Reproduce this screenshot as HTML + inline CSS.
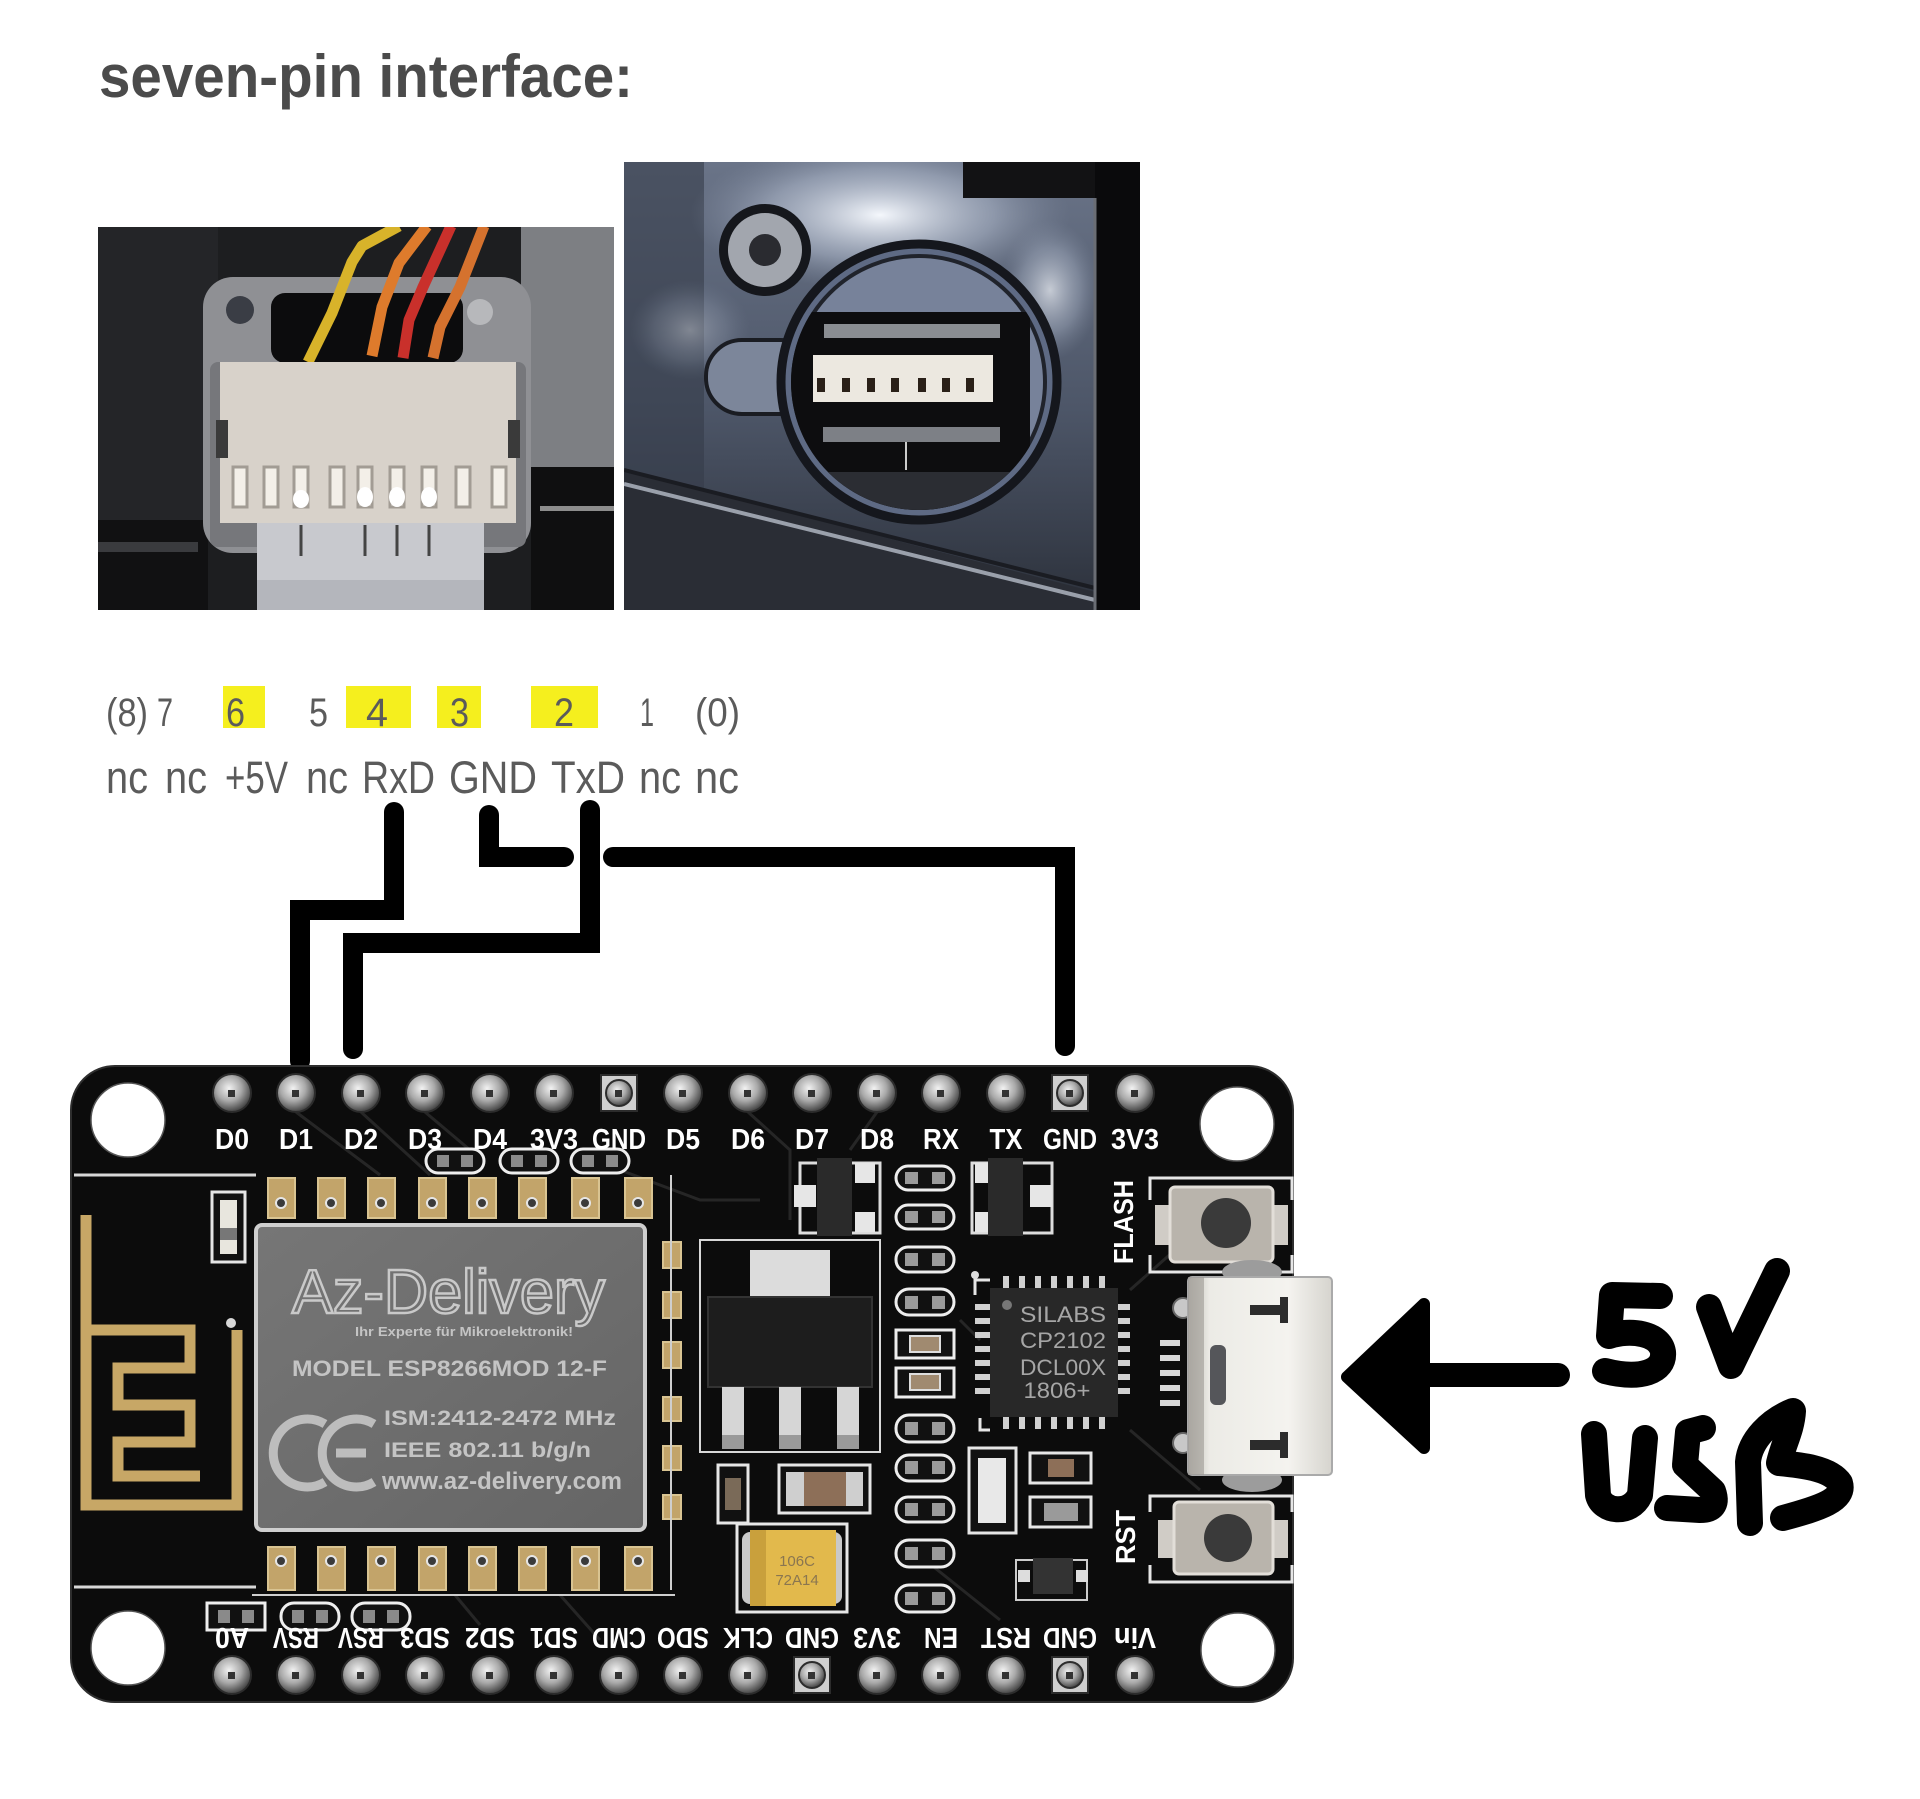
<!DOCTYPE html>
<html>
<head>
<meta charset="utf-8">
<style>
  html,body{margin:0;padding:0;background:#fff;}
  svg{display:block;}
  text{font-family:"Liberation Sans",sans-serif;}
</style>
</head>
<body>
<svg width="1920" height="1799" viewBox="0 0 1920 1799" xmlns="http://www.w3.org/2000/svg">
<defs>
  <radialGradient id="pin" cx="42%" cy="38%" r="60%">
    <stop offset="0%" stop-color="#f2f2f2"/>
    <stop offset="55%" stop-color="#a9a9a9"/>
    <stop offset="100%" stop-color="#4a4a4a"/>
  </radialGradient>
  <linearGradient id="usb" x1="0" y1="0" x2="1" y2="0">
    <stop offset="0%" stop-color="#bdbab2"/>
    <stop offset="15%" stop-color="#ecebe6"/>
    <stop offset="70%" stop-color="#f4f3ef"/>
    <stop offset="100%" stop-color="#d6d4ce"/>
  </linearGradient>
  <linearGradient id="rph" x1="0" y1="0" x2="0" y2="1">
    <stop offset="0%" stop-color="#6a7488"/>
    <stop offset="55%" stop-color="#4d5668"/>
    <stop offset="100%" stop-color="#2c313b"/>
  </linearGradient>
  <radialGradient id="hl" cx="50%" cy="50%" r="50%">
    <stop offset="0%" stop-color="#f4f7fc" stop-opacity="1"/>
    <stop offset="60%" stop-color="#b8c2d4" stop-opacity="0.5"/>
    <stop offset="100%" stop-color="#8a94a8" stop-opacity="0"/>
  </radialGradient>
  <linearGradient id="shield" x1="0" y1="0" x2="1" y2="1">
    <stop offset="0%" stop-color="#767676"/>
    <stop offset="100%" stop-color="#656565"/>
  </linearGradient>
  <clipPath id="clipL"><rect x="98" y="227" width="516" height="383"/></clipPath>
  <clipPath id="clipR"><rect x="624" y="162" width="516" height="448"/></clipPath>
  <clipPath id="clipC"><circle cx="919" cy="382" r="128"/></clipPath>
</defs>

<!-- Title -->
<text x="99" y="97" font-size="60" font-weight="bold" fill="#4b4b4b" textLength="534" lengthAdjust="spacingAndGlyphs">seven-pin interface:</text>

<!-- LEFT PHOTO -->
<g clip-path="url(#clipL)">
  <rect x="98" y="227" width="516" height="383" fill="#1d1e20"/>
  <rect x="98" y="227" width="120" height="300" fill="#242528"/>
  <rect x="521" y="227" width="93" height="240" fill="#7d7f83"/>
  <rect x="531" y="467" width="83" height="143" fill="#0f0f10"/>
  <rect x="540" y="506" width="74" height="5" fill="#8c8c8c"/>
  <rect x="98" y="520" width="110" height="90" fill="#111112"/>
  <rect x="98" y="542" width="100" height="10" fill="#3a3b3e"/>
  <rect x="203" y="277" width="328" height="276" rx="30" fill="#8f9094"/>
  <rect x="210" y="362" width="316" height="185" rx="8" fill="#76777b"/>
  <rect x="271" y="293" width="192" height="70" rx="14" fill="#0c0c0d"/>
  <circle cx="240" cy="310" r="14" fill="#3a3d45"/>
  <circle cx="480" cy="312" r="13" fill="#b7b8bb"/>
  <polyline points="399,226 362,246 352,262 332,313 308,362" fill="none" stroke="#d8b32a" stroke-width="11" stroke-linejoin="round"/>
  <polyline points="427,226 399,263 382,307 372,356" fill="none" stroke="#de7b2c" stroke-width="11" stroke-linejoin="round"/>
  <polyline points="451,226 423,287 409,320 403,358" fill="none" stroke="#c9302b" stroke-width="11" stroke-linejoin="round"/>
  <polyline points="484,226 460,287 440,327 433,358" fill="none" stroke="#d5722e" stroke-width="11" stroke-linejoin="round"/>
  <rect x="220" y="362" width="296" height="161" fill="#d8d2ca"/>
  <rect x="216" y="420" width="12" height="38" fill="#3a3a3a"/>
  <rect x="508" y="420" width="12" height="38" fill="#3a3a3a"/>
  <g fill="#f3efe8" stroke="#a29c94" stroke-width="3">
    <rect x="233" y="467" width="14" height="40"/>
    <rect x="264" y="467" width="14" height="40"/>
    <rect x="294" y="467" width="14" height="40"/>
    <rect x="330" y="467" width="14" height="40"/>
    <rect x="358" y="467" width="14" height="40"/>
    <rect x="390" y="467" width="14" height="40"/>
    <rect x="422" y="467" width="14" height="40"/>
    <rect x="456" y="467" width="14" height="40"/>
    <rect x="492" y="467" width="14" height="40"/>
  </g>
  <g fill="#ffffff">
    <ellipse cx="301" cy="499" rx="8" ry="9"/>
    <ellipse cx="365" cy="497" rx="8" ry="10"/>
    <ellipse cx="397" cy="497" rx="8" ry="10"/>
    <ellipse cx="429" cy="497" rx="8" ry="10"/>
  </g>
  <rect x="257" y="523" width="227" height="87" fill="#c8c9ce"/>
  <rect x="257" y="580" width="227" height="30" fill="#b4b6bc"/>
  <g stroke="#444" stroke-width="3">
    <line x1="301" y1="525" x2="301" y2="556"/>
    <line x1="365" y1="525" x2="365" y2="556"/>
    <line x1="397" y1="525" x2="397" y2="556"/>
    <line x1="429" y1="525" x2="429" y2="556"/>
  </g>
</g>

<!-- RIGHT PHOTO -->
<g clip-path="url(#clipR)">
  <rect x="624" y="162" width="516" height="448" fill="url(#rph)"/>
  <rect x="624" y="162" width="80" height="448" fill="#353c4a" opacity="0.6"/>
  <ellipse cx="880" cy="215" rx="190" ry="75" fill="url(#hl)"/>
  <ellipse cx="1050" cy="290" rx="50" ry="70" fill="url(#hl)" opacity="0.7"/>
  <ellipse cx="690" cy="330" rx="60" ry="50" fill="url(#hl)" opacity="0.35"/>
  <polygon points="624,470 1095,592 1095,610 624,610" fill="#2a2d35"/>
  <line x1="624" y1="484" x2="1095" y2="600" stroke="#9aa0ab" stroke-width="4"/>
  <line x1="624" y1="470" x2="1095" y2="588" stroke="#1a1c22" stroke-width="4"/>
  <rect x="963" y="162" width="132" height="36" fill="#121214"/>
  <rect x="1095" y="162" width="45" height="448" fill="#0a0a0c"/>
  <line x1="1095" y1="198" x2="1095" y2="610" stroke="#6a6d74" stroke-width="3"/>
  <circle cx="765" cy="250" r="46" fill="#15171c"/>
  <circle cx="765" cy="250" r="37" fill="#a2a6ae"/>
  <circle cx="765" cy="250" r="16" fill="#2a2b30"/>
  <rect x="706" y="340" width="110" height="74" rx="36" fill="#7c869a" stroke="#1a1c22" stroke-width="4"/>
  <circle cx="919" cy="382" r="138" fill="#5e6a84" stroke="#15171d" stroke-width="9"/>
  <circle cx="919" cy="382" r="126" fill="#77829a" stroke="#20232b" stroke-width="4"/>
  <g clip-path="url(#clipC)">
    <rect x="790" y="312" width="240" height="200" fill="#0d0d0f"/>
    <rect x="790" y="472" width="240" height="40" fill="#2b2d33"/>
  </g>
  <rect x="824" y="324" width="176" height="14" fill="#8a8d92"/>
  <rect x="813" y="355" width="180" height="47" fill="#ece8e0"/>
  <g fill="#2a2018">
    <rect x="817" y="378" width="8" height="14"/>
    <rect x="842" y="378" width="8" height="14"/>
    <rect x="867" y="378" width="8" height="14"/>
    <rect x="891" y="378" width="8" height="14"/>
    <rect x="918" y="378" width="8" height="14"/>
    <rect x="942" y="378" width="8" height="14"/>
    <rect x="966" y="378" width="8" height="14"/>
  </g>
  <rect x="823" y="427" width="177" height="15" fill="#7d8086"/>
  <line x1="906" y1="442" x2="906" y2="470" stroke="#ccc" stroke-width="2"/>
</g>

<!-- Pin numbers -->
<g fill="#f5ef1e">
  <rect x="223" y="686" width="42" height="42"/>
  <rect x="346" y="686" width="65" height="42"/>
  <rect x="437" y="686" width="44" height="42"/>
  <rect x="531" y="686" width="67" height="42"/>
</g>
<g fill="#5b5b5b" font-size="40">
  <text x="106" y="726" textLength="42" lengthAdjust="spacingAndGlyphs">(8)</text>
  <text x="157" y="726" textLength="16" lengthAdjust="spacingAndGlyphs">7</text>
  <text x="226" y="726" textLength="19" lengthAdjust="spacingAndGlyphs">6</text>
  <text x="309" y="726" textLength="19" lengthAdjust="spacingAndGlyphs">5</text>
  <text x="366" y="726" textLength="22" lengthAdjust="spacingAndGlyphs">4</text>
  <text x="450" y="726" textLength="19" lengthAdjust="spacingAndGlyphs">3</text>
  <text x="554" y="726" textLength="20" lengthAdjust="spacingAndGlyphs">2</text>
  <text x="640" y="726" textLength="14" lengthAdjust="spacingAndGlyphs">1</text>
  <text x="695" y="726" textLength="45" lengthAdjust="spacingAndGlyphs">(0)</text>
</g>
<g fill="#5b5b5b" font-size="45">
  <text x="106" y="793" textLength="42" lengthAdjust="spacingAndGlyphs">nc</text>
  <text x="165" y="793" textLength="42" lengthAdjust="spacingAndGlyphs">nc</text>
  <text x="225" y="793" textLength="63" lengthAdjust="spacingAndGlyphs">+5V</text>
  <text x="306" y="793" textLength="42" lengthAdjust="spacingAndGlyphs">nc</text>
  <text x="362" y="793" textLength="73" lengthAdjust="spacingAndGlyphs">RxD</text>
  <text x="449" y="793" textLength="88" lengthAdjust="spacingAndGlyphs">GND</text>
  <text x="551" y="793" textLength="74" lengthAdjust="spacingAndGlyphs">TxD</text>
  <text x="639" y="793" textLength="42" lengthAdjust="spacingAndGlyphs">nc</text>
  <text x="695" y="793" textLength="44" lengthAdjust="spacingAndGlyphs">nc</text>
</g>

<!-- Wires -->
<g fill="none" stroke="#000" stroke-width="20" stroke-linecap="round" stroke-linejoin="miter">
  <polyline points="394,812 394,910 300,910 300,1061"/>
  <polyline points="590,810 590,943 353,943 353,1049"/>
  <polyline points="489,815 489,857 564,857"/>
  <polyline points="613,857 1065,857 1065,1046"/>
</g>

<!-- BOARD -->
<rect x="71" y="1066" width="1222" height="636" rx="44" fill="#0c0c0c" stroke="#2e2e2e" stroke-width="2"/>
<g fill="#fff" stroke="#555" stroke-width="1.5">
  <circle cx="128" cy="1120" r="37"/>
  <circle cx="1237" cy="1124" r="37"/>
  <circle cx="128" cy="1648" r="37"/>
  <circle cx="1238" cy="1650" r="37"/>
</g>
<g stroke="#262626" stroke-width="3" fill="none">
  <polyline points="296,1112 380,1175"/>
  <polyline points="361,1112 430,1175"/>
  <polyline points="425,1112 470,1150"/>
  <polyline points="620,1170 700,1200 760,1200"/>
  <polyline points="748,1112 790,1150 790,1220"/>
  <polyline points="877,1112 850,1150"/>
  <polyline points="960,1320 980,1340"/>
  <polyline points="1130,1290 1175,1250"/>
  <polyline points="1130,1430 1200,1490"/>
  <polyline points="900,1540 1000,1620"/>
  <polyline points="455,1595 480,1625"/>
  <polyline points="560,1595 600,1640"/>
</g>
<g stroke="#d8d8d8" stroke-width="3">
  <line x1="74" y1="1175" x2="256" y2="1175"/>
  <line x1="74" y1="1587" x2="256" y2="1587"/>
</g>
<g fill="none" stroke="#c7a766" stroke-width="11" stroke-linejoin="miter">
  <polyline points="86,1215 86,1505 237,1505 237,1330"/>
  <polyline points="86,1330 190,1330 190,1368 118,1368 118,1405 190,1405 190,1442 118,1442 118,1476 200,1476"/>
</g>
<circle cx="231" cy="1323" r="5" fill="#d8d8d8"/>
<rect x="212" y="1192" width="33" height="70" fill="#111" stroke="#e5e5e5" stroke-width="3"/>
<rect x="220" y="1200" width="17" height="54" fill="#e8e6de"/>
<rect x="220" y="1228" width="17" height="12" fill="#777"/>

<!-- Module pads -->
<g>
  <g fill="#c2a46a" stroke="#d9c492" stroke-width="2">
    <rect x="268" y="1178" width="27" height="40"/>
    <rect x="318" y="1178" width="27" height="40"/>
    <rect x="368" y="1178" width="27" height="40"/>
    <rect x="419" y="1178" width="27" height="40"/>
    <rect x="469" y="1178" width="27" height="40"/>
    <rect x="519" y="1178" width="27" height="40"/>
    <rect x="572" y="1178" width="27" height="40"/>
    <rect x="625" y="1178" width="27" height="40"/>
    <rect x="268" y="1547" width="27" height="43"/>
    <rect x="318" y="1547" width="27" height="43"/>
    <rect x="368" y="1547" width="27" height="43"/>
    <rect x="419" y="1547" width="27" height="43"/>
    <rect x="469" y="1547" width="27" height="43"/>
    <rect x="519" y="1547" width="27" height="43"/>
    <rect x="572" y="1547" width="27" height="43"/>
    <rect x="625" y="1547" width="27" height="43"/>
    <rect x="663" y="1242" width="18" height="26"/>
    <rect x="663" y="1292" width="18" height="26"/>
    <rect x="663" y="1342" width="18" height="26"/>
    <rect x="663" y="1397" width="18" height="24"/>
    <rect x="663" y="1446" width="18" height="24"/>
    <rect x="663" y="1495" width="18" height="24"/>
  </g>
  <g fill="#3a3a3a" stroke="#e6e6e6" stroke-width="2">
    <circle cx="281" cy="1203" r="5"/><circle cx="331" cy="1203" r="5"/><circle cx="381" cy="1203" r="5"/><circle cx="432" cy="1203" r="5"/>
    <circle cx="482" cy="1203" r="5"/><circle cx="532" cy="1203" r="5"/><circle cx="585" cy="1203" r="5"/><circle cx="638" cy="1203" r="5"/>
    <circle cx="281" cy="1561" r="5"/><circle cx="331" cy="1561" r="5"/><circle cx="381" cy="1561" r="5"/><circle cx="432" cy="1561" r="5"/>
    <circle cx="482" cy="1561" r="5"/><circle cx="532" cy="1561" r="5"/><circle cx="585" cy="1561" r="5"/><circle cx="638" cy="1561" r="5"/>
  </g>
  <line x1="252" y1="1595" x2="675" y2="1595" stroke="#cfcfcf" stroke-width="2"/>
  <line x1="671" y1="1175" x2="671" y2="1590" stroke="#cfcfcf" stroke-width="2"/>
</g>
<!-- Shield -->
<rect x="256" y="1225" width="389" height="305" rx="6" fill="url(#shield)" stroke="#cfcfcf" stroke-width="4"/>
<text x="292" y="1313" font-size="62" fill="none" stroke="#c9c9c9" stroke-width="2.5" textLength="313" lengthAdjust="spacingAndGlyphs">Az-Delivery</text>
<text x="355" y="1336" font-size="13" font-weight="bold" fill="#c4c4c4" textLength="218" lengthAdjust="spacingAndGlyphs">Ihr Experte für Mikroelektronik!</text>
<text x="292" y="1376" font-size="22" font-weight="bold" fill="#c4c4c4" textLength="315" lengthAdjust="spacingAndGlyphs">MODEL ESP8266MOD 12-F</text>
<text x="384" y="1425" font-size="21" font-weight="bold" fill="#c4c4c4" textLength="232" lengthAdjust="spacingAndGlyphs">ISM:2412-2472 MHz</text>
<text x="384" y="1457" font-size="21" font-weight="bold" fill="#c4c4c4" textLength="207" lengthAdjust="spacingAndGlyphs">IEEE 802.11 b/g/n</text>
<text x="382" y="1489" font-size="24" font-weight="bold" fill="#c4c4c4" textLength="240" lengthAdjust="spacingAndGlyphs">www.az-delivery.com</text>
<g fill="none" stroke="#bdbdbd" stroke-width="9">
  <path d="M 325 1424 A 34 34 0 1 0 325 1482"/>
  <path d="M 374 1424 A 34 34 0 1 0 374 1482"/>
  <line x1="336" y1="1453" x2="366" y2="1453"/>
</g>

<!-- jumper ovals -->
<g fill="#111" stroke="#eee" stroke-width="3">
  <rect x="426" y="1149" width="58" height="24" rx="12"/>
  <rect x="500" y="1149" width="58" height="24" rx="12"/>
  <rect x="571" y="1149" width="58" height="24" rx="12"/>
  <rect x="207" y="1603" width="58" height="27"/>
  <rect x="281" y="1603" width="58" height="27" rx="13"/>
  <rect x="352" y="1603" width="58" height="27" rx="13"/>
</g>
<g fill="#8a8a8a">
  <rect x="437" y="1155" width="12" height="12"/><rect x="461" y="1155" width="12" height="12"/>
  <rect x="511" y="1155" width="12" height="12"/><rect x="535" y="1155" width="12" height="12"/>
  <rect x="582" y="1155" width="12" height="12"/><rect x="606" y="1155" width="12" height="12"/>
  <rect x="218" y="1610" width="12" height="13"/><rect x="242" y="1610" width="12" height="13"/>
  <rect x="292" y="1610" width="12" height="13"/><rect x="316" y="1610" width="12" height="13"/>
  <rect x="363" y="1610" width="12" height="13"/><rect x="387" y="1610" width="12" height="13"/>
</g>

<!-- Pins top -->
<g stroke="#2c2c2c" stroke-width="2" fill="url(#pin)">
  <circle cx="232" cy="1093" r="19"/><circle cx="296" cy="1093" r="19"/><circle cx="361" cy="1093" r="19"/>
  <circle cx="425" cy="1093" r="19"/><circle cx="490" cy="1093" r="19"/><circle cx="554" cy="1093" r="19"/>
  <rect x="601" y="1075" width="36" height="36" fill="#cfcfcf"/>
  <circle cx="619" cy="1093" r="13"/>
  <circle cx="683" cy="1093" r="19"/><circle cx="748" cy="1093" r="19"/><circle cx="812" cy="1093" r="19"/>
  <circle cx="877" cy="1093" r="19"/><circle cx="941" cy="1093" r="19"/><circle cx="1006" cy="1093" r="19"/>
  <rect x="1052" y="1075" width="36" height="36" fill="#cfcfcf"/>
  <circle cx="1070" cy="1093" r="13"/>
  <circle cx="1135" cy="1093" r="19"/>
</g>
<!-- Pins bottom -->
<g stroke="#2c2c2c" stroke-width="2" fill="url(#pin)">
  <circle cx="232" cy="1675" r="19"/><circle cx="296" cy="1675" r="19"/><circle cx="361" cy="1675" r="19"/>
  <circle cx="425" cy="1675" r="19"/><circle cx="490" cy="1675" r="19"/><circle cx="554" cy="1675" r="19"/>
  <circle cx="619" cy="1675" r="19"/><circle cx="683" cy="1675" r="19"/><circle cx="748" cy="1675" r="19"/>
  <rect x="794" y="1657" width="36" height="36" fill="#cfcfcf"/>
  <circle cx="812" cy="1675" r="13"/>
  <circle cx="877" cy="1675" r="19"/><circle cx="941" cy="1675" r="19"/><circle cx="1006" cy="1675" r="19"/>
  <rect x="1052" y="1657" width="36" height="36" fill="#cfcfcf"/>
  <circle cx="1070" cy="1675" r="13"/>
  <circle cx="1135" cy="1675" r="19"/>
</g>
<g fill="#333">
  <rect x="228" y="1090" width="7" height="7"/><rect x="292" y="1090" width="7" height="7"/><rect x="357" y="1090" width="7" height="7"/>
  <rect x="421" y="1090" width="7" height="7"/><rect x="486" y="1090" width="7" height="7"/><rect x="550" y="1090" width="7" height="7"/>
  <rect x="615" y="1090" width="7" height="7"/><rect x="679" y="1090" width="7" height="7"/><rect x="744" y="1090" width="7" height="7"/>
  <rect x="808" y="1090" width="7" height="7"/><rect x="873" y="1090" width="7" height="7"/><rect x="937" y="1090" width="7" height="7"/>
  <rect x="1002" y="1090" width="7" height="7"/><rect x="1066" y="1090" width="7" height="7"/><rect x="1131" y="1090" width="7" height="7"/>
  <rect x="228" y="1672" width="7" height="7"/><rect x="292" y="1672" width="7" height="7"/><rect x="357" y="1672" width="7" height="7"/>
  <rect x="421" y="1672" width="7" height="7"/><rect x="486" y="1672" width="7" height="7"/><rect x="550" y="1672" width="7" height="7"/>
  <rect x="615" y="1672" width="7" height="7"/><rect x="679" y="1672" width="7" height="7"/><rect x="744" y="1672" width="7" height="7"/>
  <rect x="808" y="1672" width="7" height="7"/><rect x="873" y="1672" width="7" height="7"/><rect x="937" y="1672" width="7" height="7"/>
  <rect x="1002" y="1672" width="7" height="7"/><rect x="1066" y="1672" width="7" height="7"/><rect x="1131" y="1672" width="7" height="7"/>
</g>

<!-- Top labels -->
<g fill="#fff" font-size="29" font-weight="bold" text-anchor="middle" lengthAdjust="spacingAndGlyphs">
  <text x="232" y="1149" textLength="34" lengthAdjust="spacingAndGlyphs">D0</text>
  <text x="296" y="1149" textLength="34" lengthAdjust="spacingAndGlyphs">D1</text>
  <text x="361" y="1149" textLength="34" lengthAdjust="spacingAndGlyphs">D2</text>
  <text x="425" y="1149" textLength="34" lengthAdjust="spacingAndGlyphs">D3</text>
  <text x="490" y="1149" textLength="34" lengthAdjust="spacingAndGlyphs">D4</text>
  <text x="554" y="1149" textLength="48" lengthAdjust="spacingAndGlyphs">3V3</text>
  <text x="619" y="1149" textLength="54" lengthAdjust="spacingAndGlyphs">GND</text>
  <text x="683" y="1149" textLength="34" lengthAdjust="spacingAndGlyphs">D5</text>
  <text x="748" y="1149" textLength="34" lengthAdjust="spacingAndGlyphs">D6</text>
  <text x="812" y="1149" textLength="34" lengthAdjust="spacingAndGlyphs">D7</text>
  <text x="877" y="1149" textLength="34" lengthAdjust="spacingAndGlyphs">D8</text>
  <text x="941" y="1149" textLength="36" lengthAdjust="spacingAndGlyphs">RX</text>
  <text x="1006" y="1149" textLength="33" lengthAdjust="spacingAndGlyphs">TX</text>
  <text x="1070" y="1149" textLength="54" lengthAdjust="spacingAndGlyphs">GND</text>
  <text x="1135" y="1149" textLength="48" lengthAdjust="spacingAndGlyphs">3V3</text>
</g>
<!-- Bottom labels (rotated) -->
<g fill="#fff" font-size="29" font-weight="bold" text-anchor="middle">
  <text x="232" y="1648" transform="rotate(180 232 1638)" textLength="34" lengthAdjust="spacingAndGlyphs">A0</text>
  <text x="296" y="1648" transform="rotate(180 296 1638)" textLength="46" lengthAdjust="spacingAndGlyphs">RSV</text>
  <text x="361" y="1648" transform="rotate(180 361 1638)" textLength="46" lengthAdjust="spacingAndGlyphs">RSV</text>
  <text x="425" y="1648" transform="rotate(180 425 1638)" textLength="50" lengthAdjust="spacingAndGlyphs">SD3</text>
  <text x="490" y="1648" transform="rotate(180 490 1638)" textLength="50" lengthAdjust="spacingAndGlyphs">SD2</text>
  <text x="554" y="1648" transform="rotate(180 554 1638)" textLength="48" lengthAdjust="spacingAndGlyphs">SD1</text>
  <text x="619" y="1648" transform="rotate(180 619 1638)" textLength="54" lengthAdjust="spacingAndGlyphs">CMD</text>
  <text x="683" y="1648" transform="rotate(180 683 1638)" textLength="52" lengthAdjust="spacingAndGlyphs">SDO</text>
  <text x="748" y="1648" transform="rotate(180 748 1638)" textLength="50" lengthAdjust="spacingAndGlyphs">CLK</text>
  <text x="812" y="1648" transform="rotate(180 812 1638)" textLength="54" lengthAdjust="spacingAndGlyphs">GND</text>
  <text x="877" y="1648" transform="rotate(180 877 1638)" textLength="48" lengthAdjust="spacingAndGlyphs">3V3</text>
  <text x="941" y="1648" transform="rotate(180 941 1638)" textLength="34" lengthAdjust="spacingAndGlyphs">EN</text>
  <text x="1006" y="1648" transform="rotate(180 1006 1638)" textLength="50" lengthAdjust="spacingAndGlyphs">RST</text>
  <text x="1070" y="1648" transform="rotate(180 1070 1638)" textLength="54" lengthAdjust="spacingAndGlyphs">GND</text>
  <text x="1135" y="1648" transform="rotate(180 1135 1638)" textLength="42" lengthAdjust="spacingAndGlyphs">Vin</text>
</g>

<!-- SOT-23 top components -->
<g>
  <rect x="800" y="1163" width="80" height="70" fill="none" stroke="#ddd" stroke-width="3"/>
  <rect x="794" y="1185" width="22" height="22" fill="#e6e6e6"/>
  <rect x="855" y="1163" width="20" height="20" fill="#e6e6e6"/>
  <rect x="855" y="1212" width="20" height="20" fill="#e6e6e6"/>
  <rect x="817" y="1158" width="35" height="78" fill="#2a2a2a"/>
  <rect x="972" y="1163" width="80" height="70" fill="none" stroke="#ddd" stroke-width="3"/>
  <rect x="1030" y="1185" width="22" height="22" fill="#e6e6e6"/>
  <rect x="975" y="1163" width="20" height="20" fill="#e6e6e6"/>
  <rect x="975" y="1212" width="20" height="20" fill="#e6e6e6"/>
  <rect x="988" y="1158" width="35" height="78" fill="#2a2a2a"/>
</g>

<!-- Jumper oval column -->
<g fill="#111" stroke="#eee" stroke-width="3">
  <rect x="896" y="1166" width="58" height="24" rx="12"/>
  <rect x="896" y="1205" width="58" height="24" rx="12"/>
  <rect x="896" y="1247" width="58" height="25" rx="12"/>
  <rect x="896" y="1289" width="58" height="26" rx="13"/>
  <rect x="896" y="1330" width="58" height="28"/>
  <rect x="896" y="1368" width="58" height="29"/>
  <rect x="896" y="1415" width="58" height="27" rx="13"/>
  <rect x="896" y="1455" width="58" height="26" rx="13"/>
  <rect x="896" y="1497" width="58" height="25" rx="12"/>
  <rect x="896" y="1540" width="58" height="27" rx="13"/>
  <rect x="896" y="1585" width="58" height="27" rx="13"/>
</g>
<g fill="#9a9a9a">
  <rect x="905" y="1172" width="13" height="12"/><rect x="932" y="1172" width="13" height="12"/>
  <rect x="905" y="1211" width="13" height="12"/><rect x="932" y="1211" width="13" height="12"/>
  <rect x="905" y="1253" width="13" height="13"/><rect x="932" y="1253" width="13" height="13"/>
  <rect x="905" y="1296" width="13" height="13"/><rect x="932" y="1296" width="13" height="13"/>
  <rect x="905" y="1422" width="13" height="13"/><rect x="932" y="1422" width="13" height="13"/>
  <rect x="905" y="1461" width="13" height="13"/><rect x="932" y="1461" width="13" height="13"/>
  <rect x="905" y="1503" width="13" height="13"/><rect x="932" y="1503" width="13" height="13"/>
  <rect x="905" y="1547" width="13" height="13"/><rect x="932" y="1547" width="13" height="13"/>
  <rect x="905" y="1592" width="13" height="13"/><rect x="932" y="1592" width="13" height="13"/>
</g>
<g>
  <rect x="910" y="1336" width="30" height="16" fill="#a08a70" stroke="#ddd" stroke-width="2"/>
  <rect x="910" y="1374" width="30" height="16" fill="#a08a70" stroke="#ddd" stroke-width="2"/>
</g>

<!-- Regulator -->
<rect x="700" y="1240" width="180" height="212" fill="none" stroke="#d8d8d8" stroke-width="2"/>
<rect x="750" y="1250" width="80" height="48" fill="#dcdcdc"/>
<rect x="708" y="1297" width="164" height="90" fill="#1d1d1d" stroke="#333" stroke-width="2"/>
<g fill="#d6d6d6">
  <rect x="722" y="1387" width="22" height="48"/>
  <rect x="779" y="1387" width="22" height="48"/>
  <rect x="837" y="1387" width="22" height="48"/>
</g>
<g fill="#9a9a9a">
  <rect x="722" y="1435" width="22" height="14"/>
  <rect x="779" y="1435" width="22" height="14"/>
  <rect x="837" y="1435" width="22" height="14"/>
</g>
<rect x="718" y="1465" width="30" height="58" fill="#111" stroke="#e6e6e6" stroke-width="3"/>
<rect x="725" y="1478" width="16" height="32" fill="#7a6a58"/>
<rect x="779" y="1465" width="91" height="48" fill="#111" stroke="#e6e6e6" stroke-width="3"/>
<rect x="786" y="1472" width="77" height="34" fill="#cfcfcf"/>
<rect x="804" y="1472" width="42" height="34" fill="#8d6f58"/>
<!-- tantalum -->
<rect x="737" y="1524" width="110" height="88" fill="none" stroke="#e6e6e6" stroke-width="3"/>
<rect x="742" y="1532" width="100" height="72" rx="8" fill="#c9c9c9"/>
<rect x="750" y="1530" width="86" height="76" fill="#e2b94c"/>
<rect x="750" y="1530" width="16" height="76" fill="#c9a03c"/>
<text x="797" y="1566" font-size="15" fill="#8a7650" text-anchor="middle">106C</text>
<text x="797" y="1585" font-size="15" fill="#8a7650" text-anchor="middle">72A14</text>

<!-- CP2102 chip -->
<g fill="#d0d0d0">
  <rect x="1003" y="1276" width="6" height="12"/><rect x="1019" y="1276" width="6" height="12"/><rect x="1035" y="1276" width="6" height="12"/>
  <rect x="1051" y="1276" width="6" height="12"/><rect x="1067" y="1276" width="6" height="12"/><rect x="1083" y="1276" width="6" height="12"/><rect x="1099" y="1276" width="6" height="12"/>
  <rect x="1003" y="1417" width="6" height="12"/><rect x="1019" y="1417" width="6" height="12"/><rect x="1035" y="1417" width="6" height="12"/>
  <rect x="1051" y="1417" width="6" height="12"/><rect x="1067" y="1417" width="6" height="12"/><rect x="1083" y="1417" width="6" height="12"/><rect x="1099" y="1417" width="6" height="12"/>
  <rect x="975" y="1304" width="15" height="6"/><rect x="975" y="1318" width="15" height="6"/><rect x="975" y="1332" width="15" height="6"/>
  <rect x="975" y="1346" width="15" height="6"/><rect x="975" y="1360" width="15" height="6"/><rect x="975" y="1374" width="15" height="6"/><rect x="975" y="1388" width="15" height="6"/>
  <rect x="1118" y="1304" width="12" height="6"/><rect x="1118" y="1318" width="12" height="6"/><rect x="1118" y="1332" width="12" height="6"/>
  <rect x="1118" y="1346" width="12" height="6"/><rect x="1118" y="1360" width="12" height="6"/><rect x="1118" y="1374" width="12" height="6"/><rect x="1118" y="1388" width="12" height="6"/>
</g>
<rect x="990" y="1288" width="128" height="129" fill="#282828"/>
<circle cx="1007" cy="1305" r="5" fill="#777"/>
<g fill="#a6a6a6" font-size="22" text-anchor="middle">
  <text x="1063" y="1322" textLength="86" lengthAdjust="spacingAndGlyphs">SILABS</text>
  <text x="1063" y="1348" textLength="86" lengthAdjust="spacingAndGlyphs">CP2102</text>
  <text x="1063" y="1375" textLength="86" lengthAdjust="spacingAndGlyphs">DCL00X</text>
  <text x="1057" y="1398" textLength="67" lengthAdjust="spacingAndGlyphs">1806+</text>
</g>
<g stroke="#e6e6e6" stroke-width="3" fill="none">
  <polyline points="975,1295 975,1280 990,1280"/>
  <polyline points="980,1418 980,1430 990,1430"/>
</g>
<circle cx="975" cy="1275" r="4" fill="#ddd"/>

<!-- misc lower-right components -->
<rect x="969" y="1448" width="47" height="85" fill="#111" stroke="#e6e6e6" stroke-width="3"/>
<rect x="978" y="1458" width="28" height="65" fill="#e8e8e8"/>
<rect x="1030" y="1453" width="61" height="30" fill="#111" stroke="#e6e6e6" stroke-width="3"/>
<rect x="1048" y="1459" width="26" height="18" fill="#8d6f58"/>
<rect x="1030" y="1497" width="61" height="30" fill="#111" stroke="#e6e6e6" stroke-width="3"/>
<rect x="1044" y="1503" width="34" height="18" fill="#9a9a9a"/>
<rect x="1016" y="1560" width="71" height="40" fill="none" stroke="#ccc" stroke-width="2"/>
<rect x="1033" y="1558" width="40" height="36" fill="#333"/>
<rect x="1018" y="1570" width="12" height="12" fill="#ddd"/>
<rect x="1076" y="1570" width="12" height="12" fill="#ddd"/>

<!-- Buttons -->
<g>
  <polyline points="1150,1200 1150,1178 1292,1178 1292,1200" fill="none" stroke="#e6e6e6" stroke-width="3"/>
  <polyline points="1150,1255 1150,1272 1292,1272 1292,1255" fill="none" stroke="#e6e6e6" stroke-width="3"/>
  <rect x="1155" y="1205" width="18" height="40" fill="#d0ccc6"/>
  <rect x="1270" y="1205" width="18" height="40" fill="#d0ccc6"/>
  <rect x="1170" y="1187" width="103" height="75" rx="5" fill="#b9b4ac" stroke="#e2ded8" stroke-width="3"/>
  <circle cx="1226" cy="1223" r="25" fill="#3a3a3a"/>
</g>
<g>
  <polyline points="1150,1512 1150,1496 1292,1496 1292,1512" fill="none" stroke="#e6e6e6" stroke-width="3"/>
  <polyline points="1150,1565 1150,1582 1292,1582 1292,1565" fill="none" stroke="#e6e6e6" stroke-width="3"/>
  <rect x="1158" y="1520" width="18" height="38" fill="#d0ccc6"/>
  <rect x="1270" y="1520" width="18" height="38" fill="#d0ccc6"/>
  <rect x="1174" y="1502" width="99" height="72" rx="5" fill="#b9b4ac" stroke="#e2ded8" stroke-width="3"/>
  <circle cx="1228" cy="1538" r="24" fill="#3a3a3a"/>
</g>
<text x="1123" y="1232" font-size="28" font-weight="bold" fill="#fff" text-anchor="middle" transform="rotate(-90 1123 1222)" textLength="84" lengthAdjust="spacingAndGlyphs">FLASH</text>
<text x="1125" y="1547" font-size="28" font-weight="bold" fill="#fff" text-anchor="middle" transform="rotate(-90 1125 1537)" textLength="54" lengthAdjust="spacingAndGlyphs">RST</text>

<!-- USB connector -->
<ellipse cx="1252" cy="1272" rx="30" ry="12" fill="#9c9c9c"/>
<ellipse cx="1252" cy="1480" rx="30" ry="12" fill="#9c9c9c"/>
<g fill="#c8c8c8" stroke="#666" stroke-width="2">
  <circle cx="1183" cy="1308" r="10"/>
  <circle cx="1183" cy="1443" r="10"/>
</g>
<g fill="#d8d8d8">
  <rect x="1160" y="1340" width="20" height="6"/><rect x="1160" y="1355" width="20" height="6"/>
  <rect x="1160" y="1370" width="20" height="6"/><rect x="1160" y="1385" width="20" height="6"/><rect x="1160" y="1400" width="20" height="6"/>
</g>
<rect x="1188" y="1277" width="144" height="198" rx="4" fill="url(#usb)" stroke="#aaa" stroke-width="2"/>
<rect x="1188" y="1277" width="16" height="198" fill="#9c9a94" opacity="0.6"/>
<g fill="#2c2c2c">
  <rect x="1250" y="1305" width="30" height="10"/>
  <rect x="1280" y="1297" width="8" height="26"/>
  <rect x="1250" y="1440" width="30" height="10"/>
  <rect x="1280" y="1432" width="8" height="26"/>
</g>
<rect x="1210" y="1345" width="16" height="60" rx="6" fill="#55565a"/>

<!-- Arrow -->
<g fill="#000" stroke="#000" stroke-linejoin="round" stroke-linecap="round">
  <polygon points="1347,1377 1424,1304 1424,1448" stroke-width="12"/>
  <line x1="1430" y1="1375" x2="1558" y2="1375" stroke-width="24"/>
</g>

<!-- Hand-drawn 5V USB -->
<g fill="none" stroke="#000" stroke-width="26" stroke-linecap="round" stroke-linejoin="round">
  <path d="M 1660 1296 L 1612 1295 L 1609 1336 C 1630 1329, 1660 1333, 1663 1352 C 1665 1372, 1640 1380, 1605 1371"/>
  <path d="M 1709 1307 L 1731 1366 L 1777 1271"/>
  <path d="M 1594 1434 L 1598 1495 C 1602 1512, 1630 1516, 1640 1495 L 1645 1438"/>
  <path d="M 1703 1428 L 1688 1432 L 1685 1465 L 1713 1491 C 1718 1505, 1712 1510, 1700 1510 L 1667 1508"/>
  <path d="M 1750 1523 L 1748 1462 C 1750 1440, 1770 1420, 1793 1411 C 1792 1430, 1783 1445, 1779 1463 C 1800 1465, 1830 1468, 1840 1483 C 1845 1500, 1820 1508, 1783 1518"/>
</g>
</svg>
</body>
</html>
